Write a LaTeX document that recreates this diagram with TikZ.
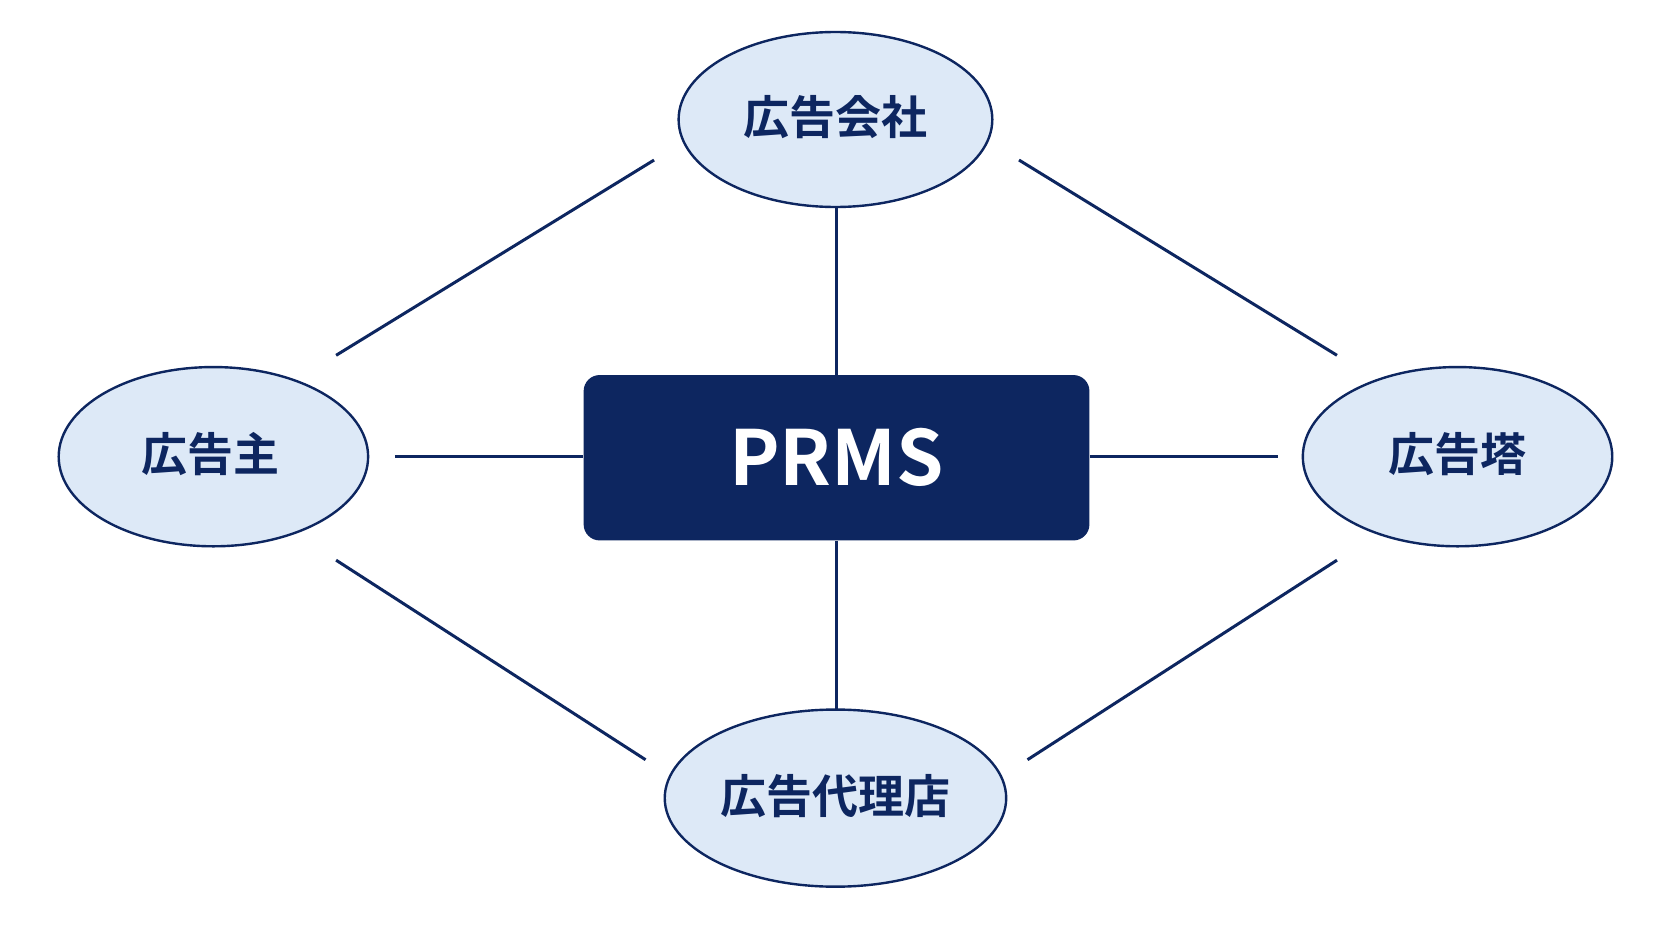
\documentclass[tikz,border=0pt]{standalone}
\usepackage{fontspec}
\setmainfont{Noto Sans CJK JP}[BoldFont={* Bold}]
\newfontfamily\cjk{Noto Sans CJK JP Bold}
\begin{document}
\begin{tikzpicture}[x=0.5335pt,y=-0.5335pt,
  ell/.style={draw=navy,line width=1.2pt,fill=lightblue},
  lbl/.style={font=\cjk\fontsize{23}{26}\selectfont,text=navy},
  ln/.style={draw=navy,line width=1.5pt}]
\definecolor{navy}{HTML}{0D2660}
\definecolor{lightblue}{HTML}{DDE9F7}
\useasboundingbox (0,0) rectangle (1567,882);
\fill[white] (0,0) rectangle (1567,882);
\filldraw[ell] (783,112) ellipse [x radius=147,y radius=82];
\filldraw[ell] (200,428) ellipse [x radius=145,y radius=84];
\filldraw[ell] (1366,428) ellipse [x radius=145,y radius=84];
\filldraw[ell] (783,748) ellipse [x radius=160,y radius=83];
\node[lbl] (top) at (783,110) {広告会社};
\node[lbl] (left) at (197,426) {広告主};
\node[lbl] (right) at (1366,426) {広告塔};
\node[lbl] (bot) at (783,746) {広告代理店};
\node[fill=navy,rounded corners=8pt,minimum width=474*0.5335pt,minimum height=155*0.5335pt,
  text=white,font=\cjk\fontsize{38}{40}\selectfont] (prms) at (784,429) {PRMS};
\coordinate (a1) at (613,150); \coordinate (a2) at (315,333);
\coordinate (b1) at (955,150); \coordinate (b2) at (1253,333);
\coordinate (c1) at (315,525); \coordinate (c2) at (605,712);
\coordinate (d1) at (1253,525); \coordinate (d2) at (963,712);
\coordinate (lh) at (370,428); \coordinate (rh) at (1198,428);
\coordinate (tv) at (784,195); \coordinate (bv) at (784,665);
\draw[ln] (a1)--(a2); \draw[ln] (b1)--(b2);
\draw[ln] (c1)--(c2); \draw[ln] (d1)--(d2);
\draw[ln] (lh)--(lh-|prms.west); \draw[ln] (rh-|prms.east)--(rh);
\draw[ln] (tv)--(prms.north); \draw[ln] (prms.south)--(bv);
\end{tikzpicture}
\end{document}
